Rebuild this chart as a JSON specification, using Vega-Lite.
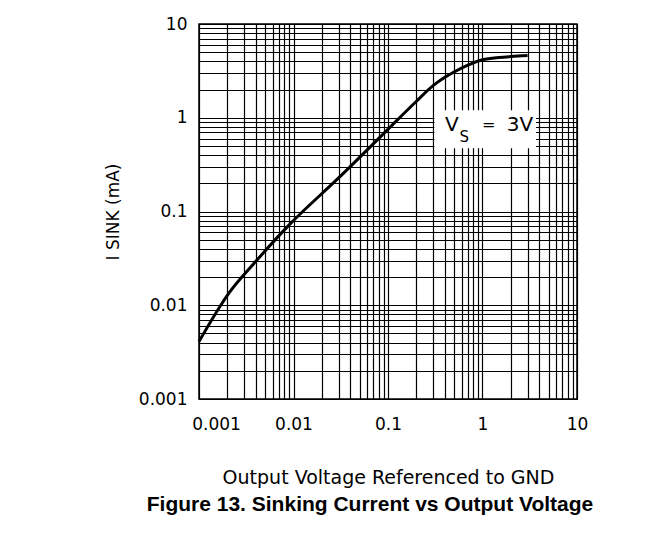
{
  "$schema": "https://vega.github.io/schema/vega-lite/v6.json",
  "width": 378,
  "height": 375,
  "padding": {"left": 104, "top": 15, "right": 5, "bottom": 5},
  "background": "white",
  "config": {"view": {"stroke": "#000", "strokeWidth": 1.5}, "font": "DejaVu Sans"},
  "title": {
    "text": "Figure 13. Sinking Current vs Output Voltage",
    "orient": "bottom",
    "font": "Liberation Sans",
    "fontSize": 21,
    "fontWeight": "bold",
    "color": "#000",
    "offset": 7,
    "anchor": "middle",
    "frame": "group",
    "dx": -18
  },
  "layer": [
    {
      "data": {"values": [
        {"v": 0.001, "i": 0.0041},
        {"v": 0.0017, "i": 0.01},
        {"v": 0.002, "i": 0.0128},
        {"v": 0.004, "i": 0.0294},
        {"v": 0.009, "i": 0.072},
        {"v": 0.03, "i": 0.228},
        {"v": 0.095, "i": 0.716},
        {"v": 0.2, "i": 1.5},
        {"v": 0.3, "i": 2.2},
        {"v": 0.4, "i": 2.7},
        {"v": 0.5, "i": 3.08},
        {"v": 0.7, "i": 3.65},
        {"v": 1, "i": 4.15},
        {"v": 1.5, "i": 4.4},
        {"v": 2, "i": 4.5},
        {"v": 3, "i": 4.6}
      ]},
      "mark": {"type": "line", "color": "#000", "strokeWidth": 3, "interpolate": "monotone"},
      "encoding": {
        "x": {
          "field": "v", "type": "quantitative",
          "scale": {"type": "log", "domain": [0.001, 10], "nice": false},
          "axis": {
            "title": "Output Voltage Referenced to GND",
            "values": [0.001,0.002,0.003,0.004,0.005,0.006,0.007,0.008,0.009,0.01,0.02,0.03,0.04,0.05,0.06,0.07,0.08,0.09,0.1,0.2,0.3,0.4,0.5,0.6,0.7,0.8,0.9,1,2,3,4,5,6,7,8,9,10],
            "labelExpr": "indexof([0.001,0.01,0.1,1,10], datum.value) >= 0 ? format(datum.value, '~g') : ''",
            "grid": true, "gridColor": "#000", "gridWidth": 1.2, "gridOpacity": 1,
            "ticks": false, "tickSize": 0, "domain": false,
            "labelFont": "DejaVu Sans", "labelFontSize": 17, "labelColor": "#000",
            "labelPadding": 17, "labelFlush": false, "labelOverlap": false,
            "labelOffset": {"condition": {"test": "datum.value == 0.001", "value": 17}, "value": 0},
            "titleFont": "DejaVu Sans", "titleFontSize": 19, "titleFontWeight": "normal", "titleColor": "#000",
            "titlePadding": 36
          }
        },
        "y": {
          "field": "i", "type": "quantitative",
          "scale": {"type": "log", "domain": [0.001, 10], "nice": false},
          "axis": {
            "title": "I SINK (mA)",
            "values": [0.001,0.002,0.003,0.004,0.005,0.006,0.007,0.008,0.009,0.01,0.02,0.03,0.04,0.05,0.06,0.07,0.08,0.09,0.1,0.2,0.3,0.4,0.5,0.6,0.7,0.8,0.9,1,2,3,4,5,6,7,8,9,10],
            "labelExpr": "indexof([0.001,0.01,0.1,1,10], datum.value) >= 0 ? format(datum.value, '~g') : ''",
            "grid": true, "gridColor": "#000", "gridWidth": 1.2, "gridOpacity": 1,
            "ticks": false, "tickSize": 0, "domain": false,
            "labelFont": "DejaVu Sans", "labelFontSize": 17, "labelColor": "#000",
            "labelPadding": 12, "labelFlush": false, "labelOverlap": false,
            "titleFont": "DejaVu Sans", "titleFontSize": 17, "titleFontWeight": "normal", "titleColor": "#000",
            "titlePadding": 16
          }
        }
      }
    },
    {
      "data": {"values": [{"box": "label"}]},
      "mark": {"type": "rect", "color": "white"},
      "encoding": {
        "x": {"datum": 0.31, "type": "quantitative"},
        "x2": {"datum": 3.68},
        "y": {"datum": 1.2, "type": "quantitative"},
        "y2": {"datum": 0.472}
      }
    },
    {
      "data": {"values": [{"t": "V"}]},
      "mark": {"type": "text", "fontSize": 20, "font": "DejaVu Sans", "color": "#000"},
      "encoding": {
        "x": {"datum": 0.474, "type": "quantitative"},
        "y": {"datum": 0.83, "type": "quantitative"},
        "text": {"field": "t"}
      }
    },
    {
      "data": {"values": [{"t": "S"}]},
      "mark": {"type": "text", "fontSize": 15, "font": "DejaVu Sans", "color": "#000"},
      "encoding": {
        "x": {"datum": 0.64, "type": "quantitative"},
        "y": {"datum": 0.618, "type": "quantitative"},
        "text": {"field": "t"}
      }
    },
    {
      "data": {"values": [{"t": "="}]},
      "mark": {"type": "text", "fontSize": 16, "font": "DejaVu Sans", "color": "#000"},
      "encoding": {
        "x": {"datum": 1.16, "type": "quantitative"},
        "y": {"datum": 0.83, "type": "quantitative"},
        "text": {"field": "t"}
      }
    },
    {
      "data": {"values": [{"t": "3V"}]},
      "mark": {"type": "text", "fontSize": 20, "font": "DejaVu Sans", "color": "#000"},
      "encoding": {
        "x": {"datum": 2.49, "type": "quantitative"},
        "y": {"datum": 0.83, "type": "quantitative"},
        "text": {"field": "t"}
      }
    }
  ]
}
